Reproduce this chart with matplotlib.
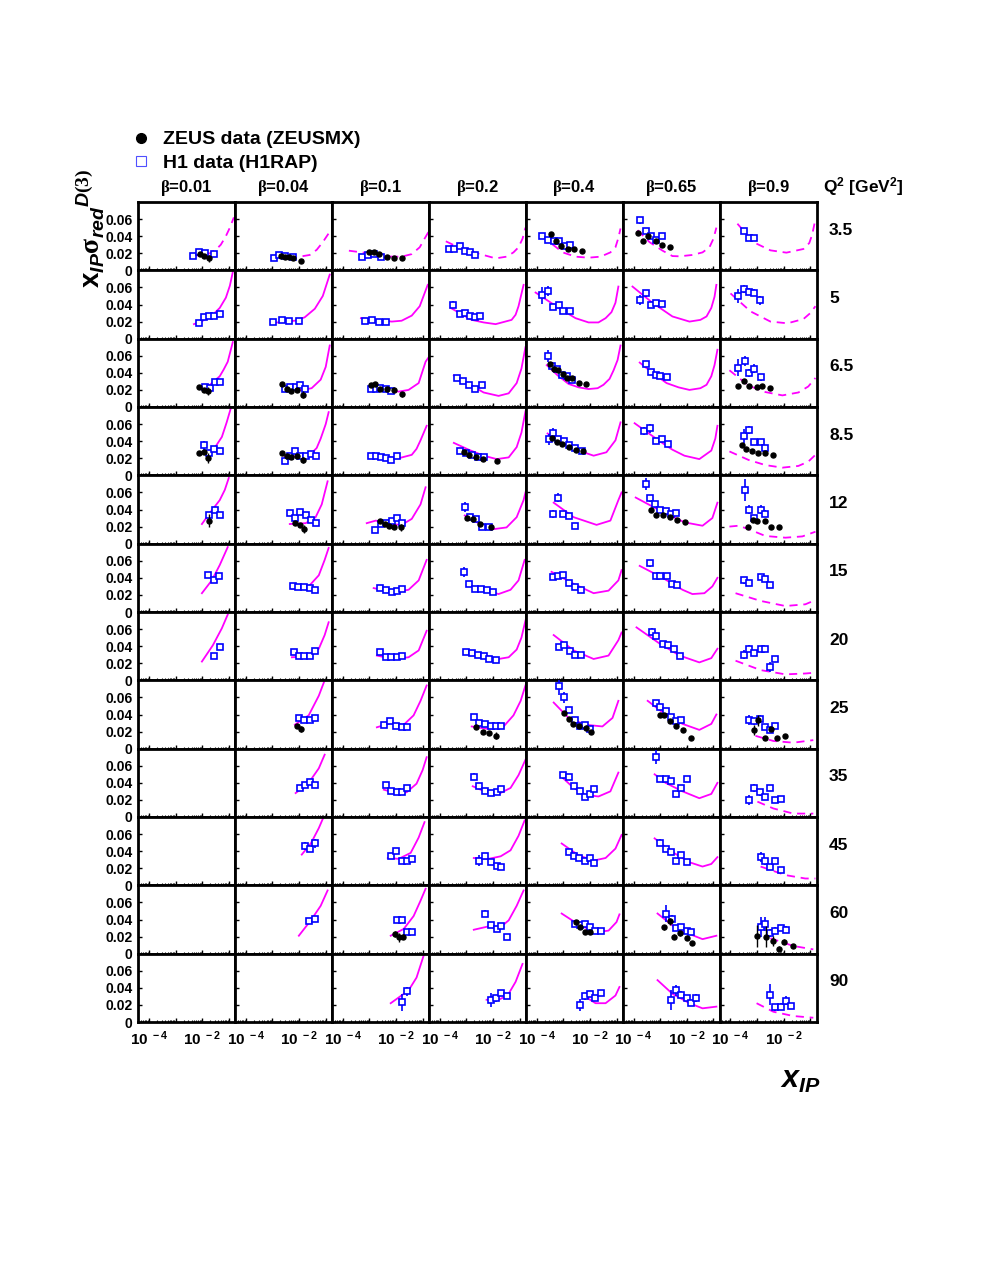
import numpy as np
import matplotlib.pyplot as plt
from matplotlib.lines import Line2D
from matplotlib.ticker import FixedLocator, FixedFormatter, LogLocator, NullFormatter

plt.rcParams['font.family'] = ['Liberation Sans', 'DejaVu Sans']
plt.rcParams['font.weight'] = 'bold'
plt.rcParams['mathtext.fontset'] = 'custom'
plt.rcParams['mathtext.rm'] = 'Liberation Serif'
plt.rcParams['mathtext.it'] = 'Liberation Sans:italic:bold'
plt.rcParams['mathtext.bf'] = 'Liberation Sans:bold'

q2_values = [3.5, 5, 6.5, 8.5, 12, 15, 20, 25, 35, 45, 60, 90]
q2_labels = ['3.5', '5', '6.5', '8.5', '12', '15', '20', '25', '35', '45', '60', '90']
beta_values = [0.01, 0.04, 0.1, 0.2, 0.4, 0.65, 0.9]
beta_labels = ['0.01', '0.04', '0.1', '0.2', '0.4', '0.65', '0.9']
dashed_q2 = [3.5]
dashed_beta = [0.9]

# H1 (H1RAP): (log10 x_IP, x_IP sigma_red, error)
h1_data = {
    (3.5, 0.01): [(-2.35, .017, .002), (-2.13, .021, .002), (-1.90, .020, .002), (-1.56, .019, .002)],
    (3.5, 0.04): [(-2.95, .015, .002), (-2.76, .018, .002), (-2.54, .017, .002), (-2.24, .016, .002)],
    (3.5, 0.1): [(-3.29, .016, .002), (-3.06, .018, .002), (-2.84, .019, .002), (-2.57, .016, .002)],
    (3.5, 0.2): [(-3.66, .025, .003), (-3.47, .025, .002), (-3.25, .028, .002), (-3.06, .023, .002), (-2.87, .021, .002), (-2.69, .018, .002)],
    (3.5, 0.4): [(-3.81, .040, .003), (-3.59, .035, .002), (-3.36, .034, .002), (-3.17, .034, .002), (-2.95, .028, .002), (-2.76, .030, .002)],
    (3.5, 0.65): [(-3.77, .0585, .004), (-3.55, .0456, .003), (-3.36, .040, .002), (-3.17, .035, .002), (-2.95, .040, .002)],
    (3.5, 0.9): [(-3.51, .0456, .003), (-3.32, .038, .002), (-3.10, .038, .002)],
    (5, 0.01): [(-2.13, .018, .002), (-1.94, .025, .002), (-1.75, .026, .002), (-1.56, .027, .002), (-1.34, .029, .002)],
    (5, 0.04): [(-2.99, .019, .002), (-2.65, .022, .002), (-2.39, .021, .002), (-2.01, .021, .002)],
    (5, 0.1): [(-3.17, .021, .002), (-2.91, .022, .002), (-2.65, .019, .002), (-2.39, .019, .002)],
    (5, 0.2): [(-3.51, .040, .004), (-3.25, .029, .002), (-3.06, .030, .002), (-2.87, .027, .002), (-2.69, .025, .002), (-2.50, .027, .002)],
    (5, 0.4): [(-3.81, .051, .010), (-3.59, .056, .006), (-3.40, .037, .003), (-3.17, .040, .003), (-3.02, .032, .002), (-2.76, .032, .002)],
    (5, 0.65): [(-3.74, .0456, .006), (-3.55, .053, .004), (-3.36, .039, .002), (-3.17, .042, .002), (-2.95, .041, .002)],
    (5, 0.9): [(-3.70, .050, .008), (-3.51, .058, .005), (-3.32, .055, .004), (-3.10, .054, .004), (-2.91, .045, .005)],
    (6.5, 0.01): [(-1.90, .023, .002), (-1.71, .022, .002), (-1.53, .029, .002), (-1.34, .029, .002)],
    (6.5, 0.04): [(-2.54, .021, .002), (-2.35, .0235, .002), (-2.13, .0235, .002), (-1.98, .026, .002), (-1.79, .0215, .002)],
    (6.5, 0.1): [(-2.95, .0215, .002), (-2.76, .0215, .002), (-2.61, .022, .002), (-2.39, .021, .002), (-2.20, .019, .002)],
    (6.5, 0.2): [(-3.36, .034, .003), (-3.14, .030, .002), (-2.91, .026, .002), (-2.69, .021, .002), (-2.42, .026, .002)],
    (6.5, 0.4): [(-3.59, .060, .007), (-3.44, .048, .004), (-3.25, .044, .003), (-3.06, .038, .003), (-2.87, .036, .002), (-2.69, .032, .002)],
    (6.5, 0.65): [(-3.55, .050, .003), (-3.36, .041, .003), (-3.17, .037, .002), (-2.99, .036, .002), (-2.76, .035, .002)],
    (6.5, 0.9): [(-3.70, .046, .010), (-3.47, .054, .006), (-3.29, .040, .005), (-3.10, .045, .005), (-2.87, .035, .004)],
    (8.5, 0.01): [(-1.94, .035, .005), (-1.75, .026, .002), (-1.56, .031, .002), (-1.34, .029, .002)],
    (8.5, 0.04): [(-2.54, .017, .002), (-2.35, .0225, .002), (-2.16, .029, .002), (-1.98, .0225, .002), (-1.75, .0225, .002), (-1.56, .025, .002), (-1.38, .0225, .002)],
    (8.5, 0.1): [(-2.95, .023, .003), (-2.76, .023, .002), (-2.57, .022, .002), (-2.39, .020, .002), (-2.20, .018, .002), (-1.98, .023, .002)],
    (8.5, 0.2): [(-3.25, .028, .003), (-3.02, .026, .002), (-2.80, .024, .002), (-2.57, .022, .002), (-2.35, .021, .002)],
    (8.5, 0.4): [(-3.55, .042, .006), (-3.40, .050, .005), (-3.21, .043, .003), (-2.99, .040, .002), (-2.80, .035, .002), (-2.57, .032, .002), (-2.31, .029, .002)],
    (8.5, 0.65): [(-3.59, .052, .005), (-3.40, .055, .005), (-3.14, .040, .003), (-2.95, .043, .003), (-2.72, .037, .002)],
    (8.5, 0.9): [(-3.51, .046, .008), (-3.32, .053, .005), (-3.10, .039, .004), (-2.87, .039, .004), (-2.72, .032, .004)],
    (12, 0.01): [(-1.75, .034, .003), (-1.53, .039, .003), (-1.34, .034, .003)],
    (12, 0.04): [(-2.35, .036, .003), (-2.16, .030, .003), (-1.98, .037, .003), (-1.75, .033, .002), (-1.56, .028, .002), (-1.38, .024, .002)],
    (12, 0.1): [(-2.80, .016, .002), (-2.57, .023, .002), (-2.39, .024, .002), (-2.16, .027, .002), (-1.98, .030, .003), (-1.79, .024, .002)],
    (12, 0.2): [(-3.06, .043, .006), (-2.87, .031, .003), (-2.65, .029, .002), (-2.42, .020, .002), (-2.16, .020, .002)],
    (12, 0.4): [(-3.40, .035, .005), (-3.21, .054, .005), (-3.02, .035, .003), (-2.80, .032, .002), (-2.57, .021, .002)],
    (12, 0.65): [(-3.55, .070, .007), (-3.40, .053, .004), (-3.21, .046, .003), (-3.02, .040, .003), (-2.80, .038, .002), (-2.61, .035, .002), (-2.39, .036, .002)],
    (12, 0.9): [(-3.47, .063, .013), (-3.29, .040, .005), (-3.10, .030, .004), (-2.87, .040, .005), (-2.72, .035, .004)],
    (15, 0.01): [(-1.79, .043, .003), (-1.56, .038, .003), (-1.38, .042, .003)],
    (15, 0.04): [(-2.24, .030, .002), (-2.05, .029, .002), (-1.83, .029, .002), (-1.60, .028, .002), (-1.41, .026, .002)],
    (15, 0.1): [(-2.61, .028, .002), (-2.39, .026, .002), (-2.16, .023, .002), (-1.98, .025, .002), (-1.79, .027, .002)],
    (15, 0.2): [(-3.10, .047, .006), (-2.91, .033, .003), (-2.69, .027, .002), (-2.46, .027, .002), (-2.24, .026, .002), (-1.98, .023, .002)],
    (15, 0.4): [(-3.40, .041, .003), (-3.21, .042, .003), (-3.02, .043, .003), (-2.80, .034, .002), (-2.57, .029, .002), (-2.35, .026, .002)],
    (15, 0.65): [(-3.40, .057, .004), (-3.17, .042, .003), (-2.99, .042, .002), (-2.76, .042, .002), (-2.57, .033, .002), (-2.35, .032, .002)],
    (15, 0.9): [(-3.51, .037, .004), (-3.32, .034, .003), (-2.87, .041, .003), (-2.69, .039, .003), (-2.50, .032, .003)],
    (20, 0.01): [(-1.56, .029, .003), (-1.34, .039, .003)],
    (20, 0.04): [(-2.20, .033, .002), (-2.01, .029, .002), (-1.83, .029, .002), (-1.60, .029, .002), (-1.41, .034, .002)],
    (20, 0.1): [(-2.61, .033, .002), (-2.39, .027, .002), (-2.20, .027, .002), (-1.98, .027, .002), (-1.79, .029, .002)],
    (20, 0.2): [(-3.02, .033, .002), (-2.80, .032, .002), (-2.57, .030, .002), (-2.35, .028, .002), (-2.13, .025, .002), (-1.90, .024, .002)],
    (20, 0.4): [(-3.17, .039, .003), (-2.99, .041, .003), (-2.76, .034, .002), (-2.57, .030, .002), (-2.35, .030, .002)],
    (20, 0.65): [(-3.32, .057, .004), (-3.14, .052, .003), (-2.91, .043, .003), (-2.72, .041, .002), (-2.50, .037, .002), (-2.27, .028, .002)],
    (20, 0.9): [(-3.51, .030, .005), (-3.32, .037, .004), (-3.10, .032, .003), (-2.87, .037, .003), (-2.69, .037, .003), (-2.50, .016, .006), (-2.31, .025, .004)],
    (25, 0.04): [(-2.01, .036, .003), (-1.83, .033, .003), (-1.60, .034, .003), (-1.41, .036, .003)],
    (25, 0.1): [(-2.46, .028, .002), (-2.24, .032, .002), (-2.01, .026, .002), (-1.79, .025, .002), (-1.60, .025, .002)],
    (25, 0.2): [(-2.72, .037, .003), (-2.54, .030, .002), (-2.31, .029, .002), (-2.09, .027, .002), (-1.90, .026, .002), (-1.71, .026, .002)],
    (25, 0.4): [(-3.17, .073, .010), (-2.99, .060, .006), (-2.80, .045, .003), (-2.57, .034, .002), (-2.39, .027, .002), (-2.20, .028, .002), (-2.01, .023, .002)],
    (25, 0.65): [(-3.17, .053, .004), (-2.99, .049, .003), (-2.80, .044, .003), (-2.61, .037, .002), (-2.42, .032, .002), (-2.20, .033, .002)],
    (25, 0.9): [(-3.29, .034, .006), (-3.10, .032, .004), (-2.91, .035, .004), (-2.69, .025, .003), (-2.50, .022, .003), (-2.31, .026, .003)],
    (35, 0.04): [(-1.98, .034, .003), (-1.79, .037, .003), (-1.60, .041, .003), (-1.41, .037, .003)],
    (35, 0.1): [(-2.39, .037, .003), (-2.20, .030, .002), (-1.98, .029, .002), (-1.79, .029, .002), (-1.60, .034, .002)],
    (35, 0.2): [(-2.72, .047, .004), (-2.54, .036, .003), (-2.31, .030, .002), (-2.09, .028, .002), (-1.86, .029, .002), (-1.68, .033, .002)],
    (35, 0.4): [(-3.02, .049, .004), (-2.80, .047, .003), (-2.61, .036, .003), (-2.39, .030, .002), (-2.20, .024, .002), (-2.01, .027, .002), (-1.83, .033, .002)],
    (35, 0.65): [(-3.17, .070, .008), (-2.99, .044, .003), (-2.80, .044, .003), (-2.61, .042, .003), (-2.39, .027, .003), (-2.20, .034, .003), (-2.01, .044, .003)],
    (35, 0.9): [(-3.29, .020, .006), (-3.10, .034, .005), (-2.91, .029, .004), (-2.72, .023, .003), (-2.50, .034, .003), (-2.31, .020, .003), (-2.09, .021, .003)],
    (45, 0.04): [(-1.79, .046, .005), (-1.60, .043, .003), (-1.41, .049, .005)],
    (45, 0.1): [(-2.20, .034, .003), (-2.01, .040, .003), (-1.79, .029, .002), (-1.60, .029, .002), (-1.41, .031, .002)],
    (45, 0.2): [(-2.54, .029, .006), (-2.31, .034, .003), (-2.09, .027, .002), (-1.86, .023, .002), (-1.68, .021, .002)],
    (45, 0.4): [(-2.80, .039, .003), (-2.61, .034, .003), (-2.42, .032, .002), (-2.20, .028, .002), (-2.01, .032, .002), (-1.83, .026, .002)],
    (45, 0.65): [(-2.99, .050, .004), (-2.80, .043, .003), (-2.61, .039, .003), (-2.39, .028, .003), (-2.20, .035, .003), (-2.01, .027, .003)],
    (45, 0.9): [(-2.87, .033, .006), (-2.69, .028, .004), (-2.50, .022, .003), (-2.31, .029, .003), (-2.09, .018, .003)],
    (60, 0.04): [(-1.64, .038, .003), (-1.41, .041, .003)],
    (60, 0.1): [(-1.98, .039, .003), (-1.79, .039, .003), (-1.60, .025, .002), (-1.41, .025, .002)],
    (60, 0.2): [(-2.31, .047, .004), (-2.09, .033, .003), (-1.86, .029, .002), (-1.68, .032, .002), (-1.49, .020, .002)],
    (60, 0.4): [(-2.57, .035, .003), (-2.39, .033, .003), (-2.20, .035, .002), (-2.01, .031, .002), (-1.79, .026, .002), (-1.60, .027, .002)],
    (60, 0.65): [(-2.80, .047, .010), (-2.57, .041, .004), (-2.39, .030, .003), (-2.20, .031, .003), (-2.01, .027, .003), (-1.83, .025, .003)],
    (60, 0.9): [(-2.87, .031, .012), (-2.69, .035, .008), (-2.50, .024, .005), (-2.31, .027, .004), (-2.09, .030, .004), (-1.90, .028, .004)],
    (90, 0.1): [(-1.79, .023, .010), (-1.60, .036, .005)],
    (90, 0.2): [(-2.09, .026, .008), (-1.90, .028, .004), (-1.68, .034, .003), (-1.49, .030, .003)],
    (90, 0.4): [(-2.39, .020, .007), (-2.20, .030, .004), (-2.01, .033, .003), (-1.79, .028, .003), (-1.60, .034, .003)],
    (90, 0.65): [(-2.61, .026, .012), (-2.42, .037, .006), (-2.20, .032, .004), (-2.01, .028, .003), (-1.83, .022, .003), (-1.64, .028, .005)],
    (90, 0.9): [(-2.50, .032, .012), (-2.31, .017, .004), (-2.09, .018, .004), (-1.90, .025, .005), (-1.71, .019, .003)],
}

# ZEUS (ZEUSMX): (log10 x_IP, x_IP sigma_red, error)
zeus_data = {
    (3.5, 0.01): [(-2.09, .019, .002), (-1.94, .017, .002), (-1.75, .014, .004)],
    (3.5, 0.04): [(-2.69, .017, .0015), (-2.54, .016, .0015), (-2.39, .016, .0015), (-2.24, .015, .0015), (-1.94, .011, .0015)],
    (3.5, 0.1): [(-3.02, .022, .0015), (-2.84, .021, .0015), (-2.65, .019, .0015), (-2.35, .016, .0015), (-2.09, .015, .0015), (-1.79, .014, .0015)],
    (3.5, 0.4): [(-3.47, .043, .0015), (-3.29, .034, .0015), (-3.10, .028, .0015), (-2.84, .025, .0015), (-2.61, .0245, .0015), (-2.31, .0226, .0015)],
    (3.5, 0.65): [(-3.85, .044, .0015), (-3.66, .034, .0015), (-3.44, .040, .0015), (-3.17, .034, .0015), (-2.95, .030, .0015), (-2.65, .027, .0015)],
    (6.5, 0.01): [(-2.13, .023, .0015), (-1.94, .020, .002), (-1.79, .019, .005)],
    (6.5, 0.04): [(-2.65, .027, .0015), (-2.46, .0215, .0015), (-2.31, .019, .0015), (-2.09, .0195, .0015), (-1.86, .0145, .004)],
    (6.5, 0.1): [(-2.95, .026, .0015), (-2.80, .027, .0015), (-2.61, .021, .0015), (-2.35, .021, .0015), (-2.09, .020, .0015), (-1.79, .015, .003)],
    (6.5, 0.4): [(-3.51, .050, .0015), (-3.36, .045, .0015), (-3.21, .043, .0015), (-3.02, .039, .0015), (-2.87, .034, .0015), (-2.69, .034, .0015), (-2.42, .028, .0015), (-2.13, .027, .0015)],
    (6.5, 0.9): [(-3.70, .025, .0015), (-3.51, .030, .0015), (-3.29, .025, .0015), (-3.02, .024, .0015), (-2.80, .025, .0015), (-2.50, .022, .0015)],
    (8.5, 0.01): [(-2.13, .026, .0015), (-1.94, .027, .0015), (-1.79, .020, .006)],
    (8.5, 0.04): [(-2.65, .026, .0015), (-2.46, .023, .0015), (-2.31, .021, .0015), (-2.09, .0225, .0015), (-1.86, .018, .004)],
    (8.5, 0.2): [(-3.10, .027, .0015), (-2.91, .024, .0015), (-2.65, .021, .0015), (-2.39, .019, .0015), (-1.86, .017, .0015)],
    (8.5, 0.4): [(-3.44, .044, .0015), (-3.25, .039, .0015), (-3.06, .037, .0015), (-2.80, .033, .0015), (-2.54, .030, .0015), (-2.24, .028, .0015)],
    (8.5, 0.9): [(-3.55, .036, .0015), (-3.40, .031, .0015), (-3.21, .029, .0015), (-2.95, .026, .0015), (-2.72, .026, .0015), (-2.39, .024, .0015)],
    (12, 0.01): [(-1.75, .027, .008)],
    (12, 0.04): [(-2.16, .024, .0015), (-1.98, .022, .0015), (-1.83, .017, .005)],
    (12, 0.1): [(-2.61, .026, .0015), (-2.42, .023, .0015), (-2.27, .021, .0015), (-2.09, .020, .0015), (-1.83, .019, .004)],
    (12, 0.2): [(-2.99, .030, .0015), (-2.76, .029, .0015), (-2.50, .023, .0015), (-2.09, .019, .0015)],
    (12, 0.65): [(-3.36, .040, .0015), (-3.14, .033, .0015), (-2.91, .033, .0015), (-2.65, .031, .0015), (-2.35, .028, .0015), (-2.05, .025, .0015)],
    (12, 0.9): [(-3.36, .019, .0015), (-3.17, .028, .0015), (-2.99, .026, .0015), (-2.72, .027, .0015), (-2.46, .019, .0015), (-2.16, .019, .0015)],
    (25, 0.04): [(-2.09, .026, .0015), (-1.94, .023, .004)],
    (25, 0.2): [(-2.65, .025, .0015), (-2.39, .020, .0015), (-2.13, .018, .0015), (-1.90, .015, .004)],
    (25, 0.4): [(-2.99, .042, .0015), (-2.80, .035, .0015), (-2.65, .029, .0015), (-2.42, .027, .0015), (-2.16, .024, .0015), (-1.94, .019, .0015)],
    (25, 0.65): [(-3.02, .040, .0015), (-2.87, .039, .0015), (-2.65, .032, .0015), (-2.39, .027, .0015), (-2.16, .022, .0015), (-1.86, .013, .0015)],
    (25, 0.9): [(-3.10, .022, .006), (-2.95, .033, .006), (-2.72, .012, .0015), (-2.46, .023, .0015), (-2.24, .013, .0015), (-1.94, .015, .0015)],
    (60, 0.1): [(-2.05, .023, .003), (-1.90, .019, .005), (-1.75, .020, .003)],
    (60, 0.4): [(-2.54, .037, .0015), (-2.39, .031, .0015), (-2.20, .025, .0015), (-1.98, .025, .0015)],
    (60, 0.65): [(-2.84, .031, .003), (-2.65, .038, .004), (-2.50, .020, .003), (-2.24, .024, .003), (-2.01, .018, .002), (-1.79, .012, .002)],
    (60, 0.9): [(-2.99, .021, .013), (-2.65, .020, .012), (-2.42, .015, .006), (-2.16, .006, .003), (-1.98, .014, .003), (-1.64, .009, .002)],
}

# fit curves: (log10 x_IP, x_IP sigma_red)
fit_curves = {
    (3.5, 0.01): [(-2.35, .017), (-1.98, .018), (-1.71, .020), (-1.49, .024), (-1.30, .030), (-1.11, .040), (-0.96, .050), (-0.81, .062)],
    (3.5, 0.04): [(-2.91, .018), (-2.35, .016), (-1.98, .016), (-1.60, .018), (-1.34, .024), (-1.11, .033), (-0.96, .040), (-0.81, .047)],
    (3.5, 0.1): [(-3.77, .023), (-3.29, .021), (-2.72, .019), (-2.16, .016), (-1.79, .016), (-1.41, .019), (-1.11, .027), (-0.93, .037), (-0.78, .045)],
    (3.5, 0.2): [(-3.77, .034), (-3.10, .024), (-2.54, .0195), (-1.90, .014), (-1.49, .016), (-1.23, .021), (-1.04, .027), (-0.89, .037), (-0.78, .050)],
    (3.5, 0.4): [(-3.81, .041), (-3.47, .032), (-3.02, .021), (-2.54, .016), (-2.05, .0148), (-1.60, .016), (-1.23, .021), (-1.04, .027), (-0.93, .038), (-0.85, .049)],
    (3.5, 0.65): [(-3.85, .047), (-3.40, .033), (-2.91, .023), (-2.54, .0167), (-2.27, .0164), (-1.79, .018), (-1.41, .021), (-1.15, .027), (-1.00, .037), (-0.89, .050)],
    (3.5, 0.9): [(-3.74, .0546), (-3.14, .033), (-2.50, .0234), (-1.90, .0207), (-1.26, .025), (-1.04, .032), (-0.93, .042), (-0.81, .060)],
    (5, 0.01): [(-2.31, .017), (-1.98, .021), (-1.60, .028), (-1.34, .036), (-1.11, .048), (-0.96, .062), (-0.85, .078)],
    (5, 0.04): [(-3.06, .018), (-2.54, .020), (-2.16, .021), (-1.79, .025), (-1.41, .035), (-1.11, .050), (-0.85, .075)],
    (5, 0.1): [(-3.32, .024), (-2.72, .022), (-2.16, .020), (-1.79, .021), (-1.41, .027), (-1.11, .038), (-0.81, .063)],
    (5, 0.2): [(-3.59, .036), (-2.80, .022), (-2.35, .019), (-1.90, .017), (-1.30, .022), (-1.15, .028), (-1.04, .038), (-0.85, .063)],
    (5, 0.4): [(-4.04, .054), (-3.17, .036), (-2.54, .024), (-2.05, .019), (-1.68, .019), (-1.41, .024), (-1.19, .031), (-1.04, .042), (-0.93, .061)],
    (5, 0.65): [(-4.04, .061), (-3.29, .042), (-2.54, .026), (-1.90, .020), (-1.49, .022), (-1.26, .026), (-1.08, .036), (-0.96, .049), (-0.89, .063)],
    (5, 0.9): [(-4.00, .053), (-3.25, .032), (-2.50, .020), (-1.86, .018), (-1.26, .023), (-1.00, .030), (-0.81, .038)],
    (6.5, 0.01): [(-2.01, .021), (-1.71, .026), (-1.34, .036), (-1.19, .044), (-1.04, .053), (-0.85, .076)],
    (6.5, 0.04): [(-2.54, .020), (-2.31, .020), (-1.86, .020), (-1.53, .022), (-1.19, .032), (-1.00, .047), (-0.85, .072)],
    (6.5, 0.1): [(-2.95, .024), (-2.35, .021), (-1.90, .018), (-1.53, .020), (-1.15, .028), (-0.89, .053), (-0.78, .058)],
    (6.5, 0.2): [(-3.47, .037), (-2.91, .027), (-2.35, .017), (-1.79, .013), (-1.41, .016), (-1.11, .028), (-0.93, .045), (-0.78, .070)],
    (6.5, 0.4): [(-3.62, .049), (-3.21, .037), (-2.80, .027), (-2.42, .023), (-2.05, .021), (-1.71, .022), (-1.49, .026), (-1.26, .033), (-1.11, .043), (-0.96, .055), (-0.85, .072)],
    (6.5, 0.65): [(-3.77, .052), (-3.29, .040), (-2.76, .028), (-2.31, .023), (-1.90, .020), (-1.49, .022), (-1.26, .026), (-1.08, .036), (-0.96, .049), (-0.85, .067)],
    (6.5, 0.9): [(-4.04, .043), (-3.32, .025), (-2.69, .0175), (-2.05, .0136), (-1.45, .017), (-1.08, .024), (-0.81, .034)],
    (8.5, 0.01): [(-2.01, .026), (-1.71, .029), (-1.49, .034), (-1.26, .045), (-1.08, .062), (-0.93, .078)],
    (8.5, 0.04): [(-2.54, .022), (-2.01, .022), (-1.53, .026), (-1.34, .032), (-1.19, .043), (-1.00, .060), (-0.89, .074)],
    (8.5, 0.1): [(-3.02, .024), (-2.46, .022), (-1.90, .020), (-1.41, .024), (-1.23, .031), (-1.08, .041), (-0.85, .058)],
    (8.5, 0.2): [(-3.47, .038), (-2.91, .030), (-2.35, .023), (-1.86, .019), (-1.41, .021), (-1.11, .033), (-0.93, .050), (-0.78, .075)],
    (8.5, 0.4): [(-3.59, .049), (-3.10, .039), (-2.61, .031), (-1.86, .023), (-1.38, .027), (-1.04, .041), (-0.85, .062)],
    (8.5, 0.65): [(-3.96, .061), (-3.02, .040), (-2.54, .030), (-2.09, .023), (-1.53, .019), (-1.08, .029), (-0.93, .043), (-0.85, .058)],
    (8.5, 0.9): [(-4.04, .028), (-3.32, .018), (-2.69, .012), (-2.05, .009), (-1.45, .011), (-1.08, .016), (-0.81, .024)],
    (12, 0.01): [(-2.01, .023), (-1.71, .036), (-1.34, .051), (-1.15, .063), (-1.00, .077)],
    (12, 0.04): [(-2.35, .023), (-1.75, .024), (-1.38, .031), (-1.15, .046), (-0.93, .073)],
    (12, 0.1): [(-3.10, .024), (-2.76, .027), (-2.27, .023), (-1.79, .022), (-1.41, .029), (-1.08, .046), (-0.89, .066)],
    (12, 0.2): [(-3.06, .033), (-2.54, .024), (-1.98, .017), (-1.49, .019), (-1.11, .031), (-0.85, .051), (-0.78, .060)],
    (12, 0.4): [(-3.36, .048), (-2.61, .031), (-1.75, .022), (-1.23, .027), (-0.93, .051), (-0.81, .060)],
    (12, 0.65): [(-3.92, .054), (-3.02, .039), (-2.09, .025), (-1.41, .021), (-1.04, .030), (-0.85, .048)],
    (12, 0.9): [(-4.04, .020), (-3.70, .021), (-3.32, .017), (-2.69, .009), (-1.94, .007), (-1.30, .0085), (-0.81, .014)],
    (15, 0.01): [(-2.01, .022), (-1.64, .037), (-1.34, .055), (-1.04, .076)],
    (15, 0.04): [(-2.27, .027), (-1.64, .030), (-1.26, .043), (-1.04, .061), (-0.89, .075)],
    (15, 0.1): [(-2.84, .028), (-2.09, .023), (-1.53, .026), (-1.15, .037), (-0.85, .061)],
    (15, 0.2): [(-2.99, .032), (-2.35, .026), (-1.79, .021), (-1.34, .026), (-1.04, .037), (-0.81, .061)],
    (15, 0.4): [(-3.44, .047), (-2.61, .033), (-1.86, .022), (-1.30, .025), (-0.93, .037), (-0.81, .049)],
    (15, 0.65): [(-3.77, .054), (-2.91, .040), (-2.16, .026), (-1.79, .021), (-1.34, .022), (-1.04, .030), (-0.85, .040)],
    (15, 0.9): [(-3.81, .022), (-2.87, .013), (-1.94, .007), (-1.19, .009), (-0.81, .014)],
    (20, 0.01): [(-2.01, .022), (-1.60, .041), (-1.26, .061), (-1.04, .077)],
    (20, 0.04): [(-2.27, .027), (-1.64, .028), (-1.26, .037), (-1.04, .053), (-0.89, .068)],
    (20, 0.1): [(-2.72, .029), (-2.09, .025), (-1.53, .027), (-1.15, .035), (-0.85, .058)],
    (20, 0.2): [(-3.10, .034), (-2.35, .030), (-1.79, .025), (-1.41, .027), (-1.11, .036), (-0.93, .050), (-0.78, .070)],
    (20, 0.4): [(-3.36, .053), (-2.61, .035), (-1.86, .025), (-1.30, .029), (-0.93, .047), (-0.81, .056)],
    (20, 0.65): [(-3.89, .062), (-3.02, .043), (-2.27, .029), (-1.53, .021), (-1.08, .026), (-0.85, .037)],
    (20, 0.9): [(-3.81, .023), (-2.87, .012), (-1.94, .007), (-1.19, .008), (-0.81, .009)],
    (25, 0.04): [(-2.16, .028), (-1.64, .039), (-1.26, .062), (-1.04, .080)],
    (25, 0.1): [(-2.72, .025), (-2.20, .030), (-1.71, .028), (-1.34, .039), (-1.08, .056), (-0.85, .074)],
    (25, 0.2): [(-2.80, .026), (-2.16, .023), (-1.60, .026), (-1.23, .039), (-0.96, .056), (-0.78, .074)],
    (25, 0.4): [(-3.36, .054), (-2.80, .036), (-2.16, .028), (-1.53, .026), (-1.15, .036), (-0.93, .056)],
    (25, 0.65): [(-3.47, .056), (-2.80, .040), (-2.16, .029), (-1.53, .022), (-1.08, .029), (-0.89, .040)],
    (25, 0.9): [(-3.06, .015), (-2.39, .009), (-1.64, .007), (-0.89, .010)],
    (35, 0.04): [(-2.13, .028), (-1.64, .040), (-1.26, .057), (-1.04, .073)],
    (35, 0.1): [(-2.46, .032), (-2.01, .028), (-1.60, .029), (-1.23, .039), (-1.00, .055), (-0.85, .070)],
    (35, 0.2): [(-2.76, .036), (-2.24, .029), (-1.79, .027), (-1.34, .034), (-1.04, .049), (-0.78, .067)],
    (35, 0.4): [(-2.99, .045), (-2.61, .034), (-2.16, .026), (-1.68, .024), (-1.23, .030), (-0.93, .052)],
    (35, 0.65): [(-3.21, .050), (-2.80, .040), (-2.16, .030), (-1.53, .022), (-1.08, .027), (-0.85, .040)],
    (35, 0.9): [(-2.99, .018), (-2.39, .010), (-1.64, .004), (-0.89, .004)],
    (45, 0.04): [(-1.90, .036), (-1.56, .049), (-1.26, .067), (-1.08, .080)],
    (45, 0.1): [(-2.31, .032), (-1.90, .031), (-1.45, .038), (-1.15, .056), (-0.93, .074)],
    (45, 0.2): [(-2.72, .032), (-2.16, .031), (-1.71, .034), (-1.34, .041), (-1.04, .058), (-0.81, .076)],
    (45, 0.4): [(-3.06, .049), (-2.42, .035), (-1.86, .029), (-1.41, .032), (-1.04, .043), (-0.81, .059)],
    (45, 0.65): [(-3.21, .055), (-2.65, .041), (-1.90, .027), (-1.41, .022), (-1.08, .025), (-0.85, .033)],
    (45, 0.9): [(-2.87, .022), (-1.94, .012), (-1.19, .008), (-0.81, .008)],
    (60, 0.04): [(-2.01, .021), (-1.56, .039), (-1.19, .056), (-0.93, .074)],
    (60, 0.1): [(-2.20, .021), (-1.71, .029), (-1.34, .044), (-1.08, .062), (-0.89, .076)],
    (60, 0.2): [(-2.72, .028), (-2.16, .032), (-1.79, .029), (-1.41, .039), (-1.11, .056), (-0.85, .074)],
    (60, 0.4): [(-3.06, .047), (-2.42, .034), (-1.79, .025), (-1.30, .027), (-1.00, .037), (-0.89, .046)],
    (60, 0.65): [(-3.10, .047), (-2.54, .033), (-1.90, .023), (-1.41, .017), (-0.89, .021)],
    (60, 0.9): [(-2.50, .018), (-1.64, .009), (-0.89, .005)],
    (90, 0.1): [(-2.20, .022), (-1.53, .037), (-1.23, .052), (-0.96, .078)],
    (90, 0.2): [(-2.24, .026), (-1.79, .026), (-1.45, .031), (-1.15, .047), (-0.89, .068)],
    (90, 0.4): [(-2.24, .031), (-1.79, .022), (-1.41, .022), (-1.04, .031), (-0.89, .041)],
    (90, 0.65): [(-3.10, .049), (-2.54, .033), (-1.90, .022), (-1.41, .016), (-0.89, .018)],
    (90, 0.9): [(-3.02, .022), (-2.39, .012), (-1.64, .007), (-0.89, .005)],
}

W, H = 981, 1269
fig, axes = plt.subplots(12, 7, figsize=(W / 100, H / 100), dpi=100,
                         gridspec_kw=dict(left=138 / W, right=816.5 / W, top=1 - 202 / H,
                                          bottom=1 - 1022 / H, wspace=0, hspace=0))

blue = '#0000ff'
magenta = '#ff00ff'

for i, q2 in enumerate(q2_values):
    for j, beta in enumerate(beta_values):
        ax = axes[i, j]
        key = (q2, beta)
        ax.set_xscale('log')
        ax.set_xlim(10 ** -4.41, 10 ** -0.77)
        ax.set_ylim(0, 0.08)

        if key in fit_curves:
            lx, y = zip(*fit_curves[key])
            dashed = q2 in dashed_q2 or beta in dashed_beta
            ax.plot(10 ** np.array(lx), y, color=magenta, lw=1.3,
                    ls=(0, (4.5, 3.2)) if dashed else '-', zorder=1)
        if key in h1_data:
            lx, y, e = zip(*h1_data[key])
            ax.errorbar(10 ** np.array(lx), y, yerr=e, fmt='s', ms=4.8, mfc='white',
                        mec=blue, mew=1.2, ecolor=blue, elinewidth=1.2, capsize=0, zorder=3)
        if key in zeus_data:
            lx, y, e = zip(*zeus_data[key])
            ax.errorbar(10 ** np.array(lx), y, yerr=e, fmt='o', ms=3.6, color='black',
                        elinewidth=1.0, capsize=0, zorder=4)

        for s in ax.spines.values():
            s.set_linewidth(2.0)

        ax.yaxis.set_major_locator(FixedLocator([0, 0.02, 0.04, 0.06]))
        ax.yaxis.set_major_formatter(FixedFormatter(['0', '0.02', '0.04', '0.06']))
        ax.xaxis.set_major_locator(FixedLocator([1e-4, 1e-3, 1e-2, 1e-1]))
        ax.xaxis.set_major_formatter(FixedFormatter(
            [r'$\mathbf{10^{\ -4}}$', '', r'$\mathbf{10^{\ -2}}$', '']))
        ax.xaxis.set_minor_locator(LogLocator(base=10, subs=np.arange(2, 10), numticks=20))
        ax.xaxis.set_minor_formatter(NullFormatter())
        ax.tick_params(axis='both', which='major', direction='in', length=3, width=1,
                       top=False, right=False, labelsize=10, pad=4,
                       labelleft=(j == 0), labelbottom=(i == len(q2_values) - 1))
        ax.tick_params(axis='x', which='major', labelsize=11, pad=5)
        ax.tick_params(axis='x', which='minor', direction='in', length=1.5, width=0.8, top=False)

        if i == 0:
            ax.text(0.5, 1.2, r'$\mathrm{\beta}$=' + beta_labels[j], transform=ax.transAxes,
                    ha='center', va='center', fontsize=12, fontweight='bold')
        if j == len(beta_values) - 1:
            ax.text(1.13, 0.59, q2_labels[i], transform=ax.transAxes,
                    ha='left', va='center', fontsize=12.5, fontweight='bold')

axes[0, -1].text(1.068, 1.22, r'Q$^{\mathbf{2}}$ [GeV$^{\mathbf{2}}$]', transform=axes[0, -1].transAxes,
                 ha='left', va='center', fontsize=12.5, fontweight='bold')

fig.text(90 / W, 1 - 228 / H,
         r'$\mathbf{x}_{\mathit{IP}}\mathrm{\sigma}_{\mathit{red}}{}^{\mathit{D(3)}}$',
         rotation=90, ha='center', va='center', fontsize=20)
fig.text(800 / W, 1 - 1080 / H, r'$\mathit{x}_{\mathit{IP}}$',
         ha='center', va='center', fontsize=22)

handles = [Line2D([], [], marker='o', ls='none', color='black', ms=7),
           Line2D([], [], marker='s', ls='none', mfc='none', mec='#5050ff', mew=0.8, ms=7.5)]
fig.legend(handles, ['ZEUS data (ZEUSMX)', 'H1 data (H1RAP)'], loc='upper left',
           bbox_to_anchor=(122 / W, 1 - 121 / H), frameon=False, borderpad=0,
           handlelength=1.0, handletextpad=0.6, labelspacing=0.3,
           prop=dict(size=14, weight='bold'))

fig.savefig('out.png', dpi=100)
